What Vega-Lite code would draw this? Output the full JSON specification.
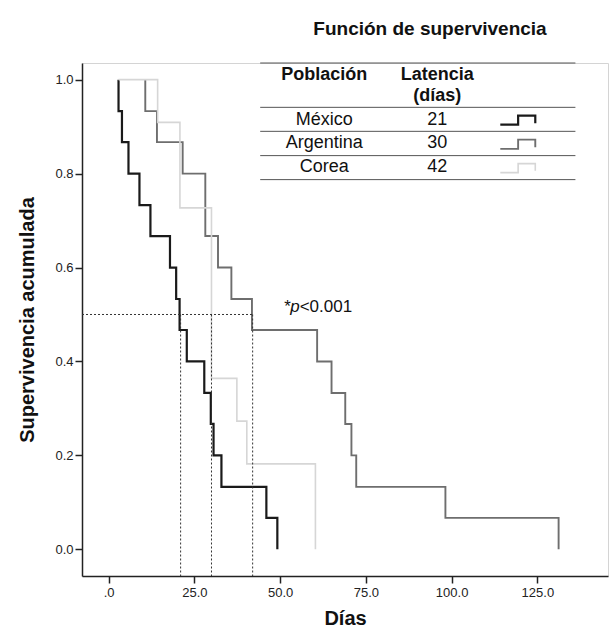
{
  "$schema": "https://vega.github.io/schema/vega-lite/v6.json",
  "width": 526,
  "height": 513,
  "autosize": {"type": "none"},
  "padding": {"left": 82, "top": 63, "right": 2, "bottom": 57},
  "background": "white",
  "config": {
    "font": "Liberation Sans",
    "view": {"stroke": "#d4d4d4", "strokeWidth": 1}
  },
  "title": {
    "text": "Función de supervivencia",
    "fontSize": 19,
    "fontWeight": "bold",
    "color": "#111",
    "anchor": "middle",
    "dx": 85,
    "offset": 24
  },
  "datasets": {
    "curves": [
      {"grupo": "México", "i": 0, "t": 2.9, "s": 1.0},
      {"grupo": "México", "i": 1, "t": 2.9, "s": 0.933},
      {"grupo": "México", "i": 2, "t": 3.9, "s": 0.867},
      {"grupo": "México", "i": 3, "t": 5.8, "s": 0.8},
      {"grupo": "México", "i": 4, "t": 9.0, "s": 0.733},
      {"grupo": "México", "i": 5, "t": 12.2, "s": 0.667},
      {"grupo": "México", "i": 6, "t": 17.9, "s": 0.6},
      {"grupo": "México", "i": 7, "t": 19.7, "s": 0.533},
      {"grupo": "México", "i": 8, "t": 20.7, "s": 0.467},
      {"grupo": "México", "i": 9, "t": 22.8, "s": 0.4},
      {"grupo": "México", "i": 10, "t": 27.9, "s": 0.333},
      {"grupo": "México", "i": 11, "t": 29.8, "s": 0.267},
      {"grupo": "México", "i": 12, "t": 30.6, "s": 0.2},
      {"grupo": "México", "i": 13, "t": 32.9, "s": 0.133},
      {"grupo": "México", "i": 14, "t": 46.0, "s": 0.067},
      {"grupo": "México", "i": 15, "t": 49.2, "s": 0.0},
      {"grupo": "Argentina", "i": 0, "t": 10.7, "s": 1.0},
      {"grupo": "Argentina", "i": 1, "t": 10.7, "s": 0.933},
      {"grupo": "Argentina", "i": 2, "t": 14.1, "s": 0.867},
      {"grupo": "Argentina", "i": 3, "t": 21.6, "s": 0.8},
      {"grupo": "Argentina", "i": 4, "t": 28.2, "s": 0.667},
      {"grupo": "Argentina", "i": 5, "t": 31.9, "s": 0.6},
      {"grupo": "Argentina", "i": 6, "t": 35.8, "s": 0.533},
      {"grupo": "Argentina", "i": 7, "t": 41.8, "s": 0.467},
      {"grupo": "Argentina", "i": 8, "t": 60.8, "s": 0.4},
      {"grupo": "Argentina", "i": 9, "t": 65.0, "s": 0.333},
      {"grupo": "Argentina", "i": 10, "t": 69.0, "s": 0.267},
      {"grupo": "Argentina", "i": 11, "t": 70.8, "s": 0.2},
      {"grupo": "Argentina", "i": 12, "t": 72.2, "s": 0.133},
      {"grupo": "Argentina", "i": 13, "t": 98.2, "s": 0.067},
      {"grupo": "Argentina", "i": 14, "t": 131.2, "s": 0.0},
      {"grupo": "Corea", "i": 0, "t": 2.9, "s": 1.0},
      {"grupo": "Corea", "i": 1, "t": 14.3, "s": 0.909},
      {"grupo": "Corea", "i": 2, "t": 20.8, "s": 0.727},
      {"grupo": "Corea", "i": 3, "t": 30.0, "s": 0.364},
      {"grupo": "Corea", "i": 4, "t": 37.4, "s": 0.273},
      {"grupo": "Corea", "i": 5, "t": 40.3, "s": 0.182},
      {"grupo": "Corea", "i": 6, "t": 60.3, "s": 0.0}
    ],
    "medianas": [
      {"x1": -7.75, "x2": 42, "y1": 0.5, "y2": 0.5},
      {"x1": 21, "x2": 21, "y1": 0.5, "y2": -0.0568},
      {"x1": 30, "x2": 30, "y1": 0.5, "y2": -0.0568},
      {"x1": 42, "x2": 42, "y1": 0.5, "y2": -0.0568}
    ],
    "reglas": [
      {"x1": 44.2, "x2": 136.1, "y": 1.0355},
      {"x1": 44.2, "x2": 136.1, "y": 0.9411},
      {"x1": 44.2, "x2": 136.1, "y": 0.890},
      {"x1": 44.2, "x2": 136.1, "y": 0.8383},
      {"x1": 44.2, "x2": 136.1, "y": 0.7872}
    ],
    "simbolos": [
      {"grupo": "México", "i": 0, "t": 114.2, "s": 0.9043},
      {"grupo": "México", "i": 1, "t": 119.4, "s": 0.9043},
      {"grupo": "México", "i": 2, "t": 119.4, "s": 0.9234},
      {"grupo": "México", "i": 3, "t": 124.4, "s": 0.9234},
      {"grupo": "México", "i": 4, "t": 124.4, "s": 0.907},
      {"grupo": "Argentina", "i": 0, "t": 114.2, "s": 0.8526},
      {"grupo": "Argentina", "i": 1, "t": 119.4, "s": 0.8526},
      {"grupo": "Argentina", "i": 2, "t": 119.4, "s": 0.8723},
      {"grupo": "Argentina", "i": 3, "t": 124.4, "s": 0.8723},
      {"grupo": "Argentina", "i": 4, "t": 124.4, "s": 0.856},
      {"grupo": "Corea", "i": 0, "t": 114.2, "s": 0.802},
      {"grupo": "Corea", "i": 1, "t": 119.4, "s": 0.802},
      {"grupo": "Corea", "i": 2, "t": 119.4, "s": 0.8213},
      {"grupo": "Corea", "i": 3, "t": 124.4, "s": 0.8213},
      {"grupo": "Corea", "i": 4, "t": 124.4, "s": 0.806}
    ],
    "encabezados": [
      {"x": 62.9, "y": 1.0106, "texto": "Población"},
      {"x": 95.8, "y": 1.0106, "texto": "Latencia"},
      {"x": 95.8, "y": 0.966, "texto": "(días)"}
    ],
    "filas": [
      {"x": 62.9, "y": 0.9149, "texto": "México"},
      {"x": 95.8, "y": 0.9149, "texto": "21"},
      {"x": 62.9, "y": 0.8653, "texto": "Argentina"},
      {"x": 95.8, "y": 0.8653, "texto": "30"},
      {"x": 62.9, "y": 0.8143, "texto": "Corea"},
      {"x": 95.8, "y": 0.8143, "texto": "42"}
    ],
    "pital": [{"x": 51.0, "y": 0.515, "texto": "*p"}],
    "pval": [{"x": 55.7, "y": 0.515, "texto": "<0.001"}]
  },
  "layer": [
    {
      "data": {"name": "curves"},
      "mark": {"type": "line", "interpolate": "step-after"},
      "encoding": {
        "x": {
          "field": "t", "type": "quantitative",
          "scale": {"domain": [-7.75, 145.6], "nice": false, "zero": false},
          "axis": {
            "title": "Días",
            "values": [0, 25, 50, 75, 100, 125],
            "labelExpr": "datum.value == 0 ? '.0' : format(datum.value, '.1f')",
            "grid": false,
            "domainColor": "#222", "domainWidth": 1.5,
            "tickColor": "#222", "tickWidth": 1.5, "tickSize": 7,
            "labelFontSize": 13, "labelColor": "#222", "labelPadding": 3,
            "titleFontSize": 20, "titleFontWeight": "bold", "titleColor": "#111", "titlePadding": 9
          }
        },
        "y": {
          "field": "s", "type": "quantitative",
          "scale": {"domain": [-0.0568, 1.0355], "nice": false, "zero": false},
          "axis": {
            "title": "Supervivencia acumulada",
            "values": [0, 0.2, 0.4, 0.6, 0.8, 1.0],
            "format": ".1f",
            "grid": false,
            "domainColor": "#222", "domainWidth": 1.5,
            "tickColor": "#222", "tickWidth": 1.5, "tickSize": 7,
            "labelFontSize": 13, "labelColor": "#222", "labelPadding": 2,
            "titleFontSize": 20, "titleFontWeight": "bold", "titleColor": "#111", "titlePadding": 17
          }
        },
        "order": {"field": "i", "type": "quantitative"},
        "color": {
          "field": "grupo", "type": "nominal",
          "scale": {"domain": ["México", "Argentina", "Corea"], "range": ["#1a1a1a", "#6e6e6e", "#d6d6d6"]},
          "legend": null
        },
        "strokeWidth": {
          "field": "grupo", "type": "nominal",
          "scale": {"domain": ["México", "Argentina", "Corea"], "range": [2.2, 1.6, 1.6]},
          "legend": null
        }
      }
    },
    {
      "data": {"name": "medianas"},
      "mark": {"type": "rule", "color": "#333", "strokeWidth": 1, "strokeDash": [2, 2]},
      "encoding": {
        "x": {"field": "x1", "type": "quantitative"},
        "x2": {"field": "x2"},
        "y": {"field": "y1", "type": "quantitative"},
        "y2": {"field": "y2"}
      }
    },
    {
      "data": {"name": "reglas"},
      "mark": {"type": "rule", "color": "#555", "strokeWidth": 1},
      "encoding": {
        "x": {"field": "x1", "type": "quantitative"},
        "x2": {"field": "x2"},
        "y": {"field": "y", "type": "quantitative"}
      }
    },
    {
      "data": {"name": "simbolos"},
      "mark": {"type": "line", "interpolate": "linear"},
      "encoding": {
        "x": {"field": "t", "type": "quantitative"},
        "y": {"field": "s", "type": "quantitative"},
        "order": {"field": "i", "type": "quantitative"},
        "color": {"field": "grupo", "type": "nominal", "legend": null},
        "strokeWidth": {"field": "grupo", "type": "nominal", "legend": null}
      }
    },
    {
      "data": {"name": "encabezados"},
      "mark": {"type": "text", "fontSize": 18, "fontWeight": "bold", "color": "#111", "align": "center", "baseline": "middle"},
      "encoding": {
        "x": {"field": "x", "type": "quantitative"},
        "y": {"field": "y", "type": "quantitative"},
        "text": {"field": "texto"}
      }
    },
    {
      "data": {"name": "filas"},
      "mark": {"type": "text", "fontSize": 18, "color": "#111", "align": "center", "baseline": "middle"},
      "encoding": {
        "x": {"field": "x", "type": "quantitative"},
        "y": {"field": "y", "type": "quantitative"},
        "text": {"field": "texto"}
      }
    },
    {
      "data": {"name": "pital"},
      "mark": {"type": "text", "fontSize": 17, "fontStyle": "italic", "color": "#111", "align": "left", "baseline": "middle"},
      "encoding": {
        "x": {"field": "x", "type": "quantitative"},
        "y": {"field": "y", "type": "quantitative"},
        "text": {"field": "texto"}
      }
    },
    {
      "data": {"name": "pval"},
      "mark": {"type": "text", "fontSize": 17, "color": "#111", "align": "left", "baseline": "middle"},
      "encoding": {
        "x": {"field": "x", "type": "quantitative"},
        "y": {"field": "y", "type": "quantitative"},
        "text": {"field": "texto"}
      }
    }
  ]
}
